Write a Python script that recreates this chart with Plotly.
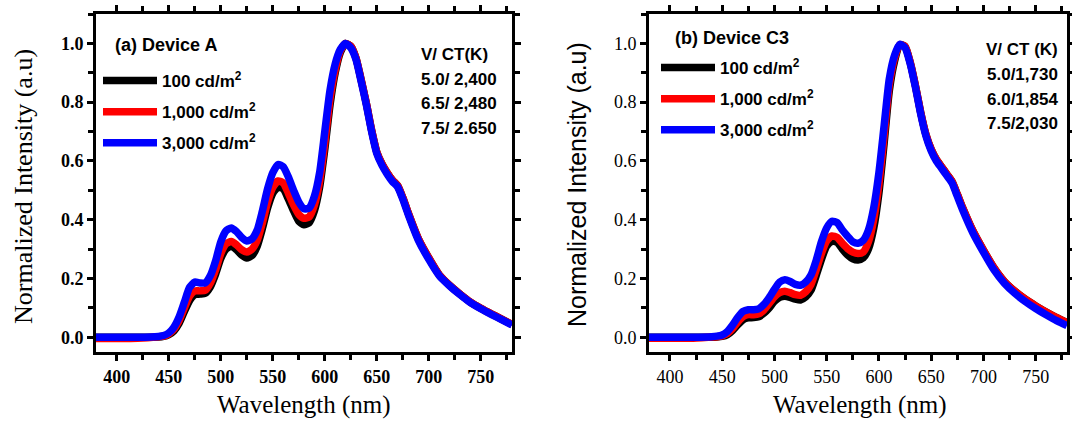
import plotly.graph_objects as go

wavelength = [380, 400, 420, 440, 445, 450, 455, 460, 465, 470, 475, 480, 485, 490, 495,
              500, 505, 510, 515, 520, 525, 530, 535, 540, 545, 550, 555, 560, 565, 570,
              575, 580, 585, 590, 595, 600, 605, 610, 615, 620, 625, 630, 635, 640, 645,
              650, 655, 660, 665, 670, 675, 680, 690, 700, 710, 720, 730, 740, 750, 760,
              770, 780]

# Device A
a_100 = [0.0, 0.0, 0.0, 0.001, 0.003, 0.009, 0.022, 0.048, 0.088, 0.125, 0.145, 0.147, 0.15, 0.172, 0.215,
         0.268, 0.300, 0.310, 0.298, 0.280, 0.270, 0.278, 0.310, 0.370, 0.440, 0.490, 0.510, 0.505, 0.470, 0.430,
         0.395, 0.383, 0.390, 0.430, 0.510, 0.640, 0.790, 0.900, 0.970, 1.000, 0.990, 0.950, 0.875, 0.795, 0.705,
         0.630, 0.590, 0.560, 0.535, 0.516, 0.475, 0.425, 0.335, 0.270, 0.213, 0.177, 0.147, 0.120, 0.099, 0.080,
         0.062, 0.044]
a_1000 = [-0.004, -0.004, -0.003, 0.002, 0.004, 0.012, 0.028, 0.058, 0.100, 0.140, 0.158, 0.158, 0.160, 0.185, 0.230,
          0.285, 0.318, 0.326, 0.315, 0.298, 0.290, 0.300, 0.330, 0.390, 0.460, 0.510, 0.532, 0.525, 0.490, 0.450,
          0.418, 0.405, 0.410, 0.450, 0.530, 0.660, 0.810, 0.910, 0.975, 1.000, 0.990, 0.950, 0.875, 0.795, 0.705,
          0.630, 0.590, 0.560, 0.535, 0.516, 0.475, 0.425, 0.335, 0.270, 0.213, 0.177, 0.147, 0.120, 0.099, 0.080,
          0.062, 0.044]
a_3000 = [0.0, 0.0, 0.0, 0.003, 0.006, 0.015, 0.035, 0.070, 0.120, 0.170, 0.188, 0.185, 0.185, 0.210, 0.260,
          0.325, 0.362, 0.372, 0.360, 0.340, 0.328, 0.335, 0.365, 0.430, 0.505, 0.560, 0.588, 0.580, 0.545, 0.500,
          0.460, 0.437, 0.440, 0.480, 0.560, 0.700, 0.840, 0.930, 0.980, 1.000, 0.985, 0.945, 0.870, 0.790, 0.700,
          0.625, 0.585, 0.555, 0.530, 0.512, 0.470, 0.420, 0.330, 0.265, 0.210, 0.175, 0.145, 0.118, 0.097, 0.078,
          0.060, 0.042]

# Device C3
c_100 = [0.0, 0.0, 0.0, 0.0, 0.001, 0.003, 0.009, 0.023, 0.043, 0.060, 0.066, 0.067, 0.070, 0.082, 0.100,
         0.122, 0.136, 0.140, 0.136, 0.130, 0.127, 0.137, 0.160, 0.210, 0.265, 0.310, 0.326, 0.323, 0.300, 0.280,
         0.267, 0.263, 0.270, 0.300, 0.370, 0.490, 0.660, 0.840, 0.940, 0.995, 0.990, 0.935, 0.855, 0.765, 0.690,
         0.640, 0.605, 0.580, 0.555, 0.530, 0.487, 0.442, 0.362, 0.297, 0.237, 0.190, 0.157, 0.130, 0.107, 0.086,
         0.067, 0.050]
c_1000 = [-0.003, -0.003, -0.003, 0.001, 0.002, 0.005, 0.013, 0.030, 0.052, 0.070, 0.077, 0.077, 0.080, 0.093, 0.115,
          0.138, 0.152, 0.157, 0.152, 0.145, 0.143, 0.155, 0.180, 0.230, 0.285, 0.328, 0.345, 0.340, 0.320, 0.302,
          0.290, 0.285, 0.290, 0.325, 0.400, 0.520, 0.685, 0.860, 0.950, 0.996, 0.990, 0.935, 0.855, 0.765, 0.690,
          0.640, 0.605, 0.580, 0.555, 0.530, 0.487, 0.442, 0.362, 0.297, 0.237, 0.190, 0.157, 0.130, 0.107, 0.086,
          0.067, 0.050]
c_3000 = [0.0, 0.0, 0.0, 0.002, 0.004, 0.008, 0.020, 0.042, 0.068, 0.088, 0.094, 0.094, 0.097, 0.112, 0.135,
          0.163, 0.188, 0.196, 0.190, 0.180, 0.177, 0.188, 0.212, 0.262, 0.325, 0.372, 0.395, 0.390, 0.365, 0.344,
          0.325, 0.320, 0.330, 0.365, 0.440, 0.560, 0.720, 0.880, 0.960, 0.997, 0.985, 0.930, 0.850, 0.760, 0.685,
          0.635, 0.600, 0.575, 0.550, 0.525, 0.480, 0.435, 0.355, 0.290, 0.230, 0.184, 0.150, 0.122, 0.098, 0.077,
          0.057, 0.040]

series_names = ["100 cd/m<sup>2</sup>", "1,000 cd/m<sup>2</sup>", "3,000 cd/m<sup>2</sup>"]
colors = ["#000000", "#ff0000", "#0000ff"]

panel_a_labels = ["V/ CT(K)", "5.0/ 2,400", "6.5/ 2,480", "7.5/ 2.650"]
panel_c_labels = ["V/ CT (K)", "5.0/1,730", "6.0/1,854", "7.5/2,030"]

W, H = 1072, 421
fig = go.Figure()

for i, (ys, name, col) in enumerate(zip([a_100, a_1000, a_3000], series_names, colors)):
    fig.add_trace(go.Scatter(x=wavelength, y=ys, mode="lines", name=name, legendgroup="a%d" % i,
                             line=dict(color=col, width=7.5, shape="spline", smoothing=0.6),
                             xaxis="x", yaxis="y", legend="legend"))
for i, (ys, name, col) in enumerate(zip([c_100, c_1000, c_3000], series_names, colors)):
    fig.add_trace(go.Scatter(x=wavelength, y=ys, mode="lines", name=name, legendgroup="c%d" % i,
                             line=dict(color=col, width=7.5, shape="spline", smoothing=0.6),
                             xaxis="x2", yaxis="y2", legend="legend2"))

def px(x):
    return x / W

def py(y):
    return 1 - y / H

serif = "Liberation Serif, Times New Roman, serif"
sans = "Liberation Sans, Arial, sans-serif"

def xaxis_cfg(domain, bold):
    return dict(domain=domain, range=[380, 780], tick0=400, dtick=50,
                showline=True, linecolor="black", linewidth=3, mirror="allticks",
                ticks="outside", ticklen=6, tickwidth=2.5, tickcolor="black",
                minor=dict(dtick=25, tick0=400, ticks="outside", ticklen=5, tickwidth=2.5, tickcolor="black"),
                showgrid=False, zeroline=False,
                tickfont=dict(family=serif, size=18, color="black", weight="bold" if bold else "normal"))

def yaxis_cfg(domain, anchor, bold):
    return dict(domain=domain, anchor=anchor, range=[-0.05, 1.1], tick0=0, dtick=0.2, tickformat=".1f",
                showline=True, linecolor="black", linewidth=3, mirror="allticks",
                ticks="outside", ticklen=6, tickwidth=2.5, tickcolor="black",
                minor=dict(dtick=0.1, tick0=0, ticks="outside", ticklen=5, tickwidth=2.5, tickcolor="black"),
                showgrid=False, zeroline=False,
                tickfont=dict(family=serif, size=18, color="black", weight="bold" if bold else "normal"))

legend_font = dict(family=sans, size=17, color="black", weight="bold")
ydom = [py(352), py(14)]
fig.update_layout(
    width=W, height=H,
    margin=dict(l=0, r=0, t=0, b=0, autoexpand=False),
    paper_bgcolor="white", plot_bgcolor="white",
    xaxis=dict(**xaxis_cfg([px(96), px(512)], True), anchor="y"),
    yaxis=yaxis_cfg(ydom, "x", True),
    xaxis2=dict(**xaxis_cfg([px(649), px(1067)], False), anchor="y2"),
    yaxis2=yaxis_cfg(ydom, "x2", False),
    legend=dict(x=px(98), y=py(63), xanchor="left", yanchor="top", bgcolor="rgba(0,0,0,0)",
                itemwidth=54, tracegroupgap=6, font=legend_font),
    legend2=dict(x=px(656), y=py(50), xanchor="left", yanchor="top", bgcolor="rgba(0,0,0,0)",
                 itemwidth=54, tracegroupgap=6, font=legend_font),
    showlegend=True,
)

ann_font = dict(family=sans, size=17, color="black", weight="bold")
ann = []
# axis titles
ann.append(dict(text="Wavelength (nm)", x=px(304), y=py(405), xref="paper", yref="paper",
                xanchor="center", yanchor="middle",
                showarrow=False, font=dict(family=serif, size=25, color="black")))
ann.append(dict(text="Wavelength (nm)", x=px(860), y=py(405), xref="paper", yref="paper",
                xanchor="center", yanchor="middle",
                showarrow=False, font=dict(family=serif, size=25, color="black")))
ann.append(dict(text="Normalized Intensity (a.u)", x=px(24), y=py(187), xref="paper", yref="paper",
                xanchor="center", yanchor="middle",
                showarrow=False, textangle=-90, font=dict(family=serif, size=26, color="black")))
ann.append(dict(text="Normalized Intensity (a.u)", x=px(577), y=py(185), xref="paper", yref="paper",
                xanchor="center", yanchor="middle",
                showarrow=False, textangle=-90, font=dict(family=sans, size=25, color="black")))
# panel labels
ann.append(dict(text="(a) Device A", x=px(113), y=py(45), xref="paper", yref="paper",
                xanchor="left", yanchor="middle", showarrow=False,
                font=dict(family=sans, size=18, color="black", weight="bold")))
ann.append(dict(text="(b) Device C3", x=px(673), y=py(38), xref="paper", yref="paper",
                xanchor="left", yanchor="middle", showarrow=False,
                font=dict(family=sans, size=18, color="black", weight="bold")))
for t, yy in zip(panel_a_labels, [55, 79.5, 104, 128.5]):
    ann.append(dict(text=t, x=px(419), y=py(yy), xref="paper", yref="paper",
                    xanchor="left", yanchor="middle", showarrow=False, font=ann_font))
for t, yy in zip(panel_c_labels, [50, 74.5, 99, 124]):
    ann.append(dict(text=t, x=px(1060), y=py(yy), xref="paper", yref="paper",
                    xanchor="right", yanchor="middle", showarrow=False, font=ann_font))
fig.update_layout(annotations=ann)

fig.write_html("out.html", config={"displayModeBar": False},
               post_script="document.body.style.margin='0px';")
